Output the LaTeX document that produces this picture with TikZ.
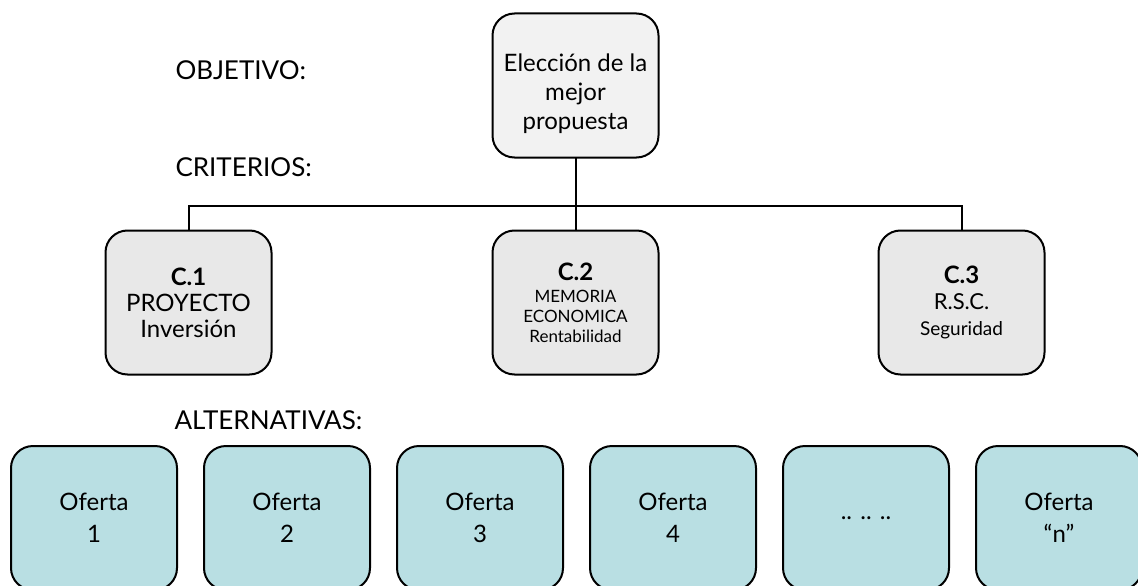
\documentclass[tikz,border=0pt]{standalone}
\usepackage{fontspec}
\setmainfont{Lato}
\usetikzlibrary{positioning}
\definecolor{goalgray}{HTML}{F2F2F2}
\definecolor{critgray}{HTML}{E8E8E8}
\definecolor{altteal}{HTML}{B9DFE3}
\newcommand{\midtext}{\fontsize{22}{25}\selectfont}
\newcommand{\smalltext}{\fontsize{17}{21}\selectfont}
\newcommand{\seltext}{\fontsize{19}{21}\selectfont}

\begin{document}
\begin{tikzpicture}[x=1pt,y=-1pt,node distance=72pt and 27pt,
    box/.style={draw,line width=2pt,rounded corners=22pt,outer sep=0pt,
        minimum width=166pt,minimum height=144pt,inner sep=0pt,
        align=center,font=\fontsize{24}{29}\selectfont},
    goal/.style={box,fill=goalgray,text height=92pt},
    crit/.style={box,fill=critgray,font=\fontsize{24}{26}\selectfont},
    alt/.style={box,fill=altteal,font=\fontsize{24}{32}\selectfont},
    level/.style={anchor=west,font=\fontsize{26}{30}\selectfont},
    link/.style={line width=2pt}]
    \useasboundingbox (0,0) rectangle (1138,586);
    \node[goal] (top) at (575.5,85.5) {Elección de la\\mejor\\propuesta};
    \node[crit] (c2) [below=73pt of top]
        {\textbf{C.2}\\[-4pt]{\smalltext MEMORIA}\\[-6pt]{\smalltext ECONOMICA}\\[-6pt]{\smalltext Rentabilidad}};
    \node[crit] (c1) [left=221pt of c2] {\textbf{C.1}\\PROYECTO\\Inversión};
    \node[crit] (c3) [right=220pt of c2] {\textbf{C.3}\\{\midtext R.S.C.}\\{\seltext Seguridad}};

    \node[level] (objetivo)     at (172,70)  {OBJETIVO:};
    \node[level] (criterios)    at (172,167) {CRITERIOS:};
    \node[level] (alternativas) at (171,420) {ALTERNATIVAS:};

    \node[alt] (o1) at (94,518)       {Oferta\\1};
    \node[alt] (o2) [right=of o1]     {Oferta\\2};
    \node[alt] (o3) [right=of o2]     {Oferta\\3};
    \node[alt] (o4) [right=of o3]     {Oferta\\4};
    \node[alt] (o5) [right=of o4]     {.. .. ..};
    \node[alt] (o6) [right=of o5]     {Oferta\\“n”};

    \coordinate (bus) at (575.5,206);
    \draw[link] (top) -- (c2);
    \draw[link] (c1) |- (bus) -| (c3);
\end{tikzpicture}
\end{document}
